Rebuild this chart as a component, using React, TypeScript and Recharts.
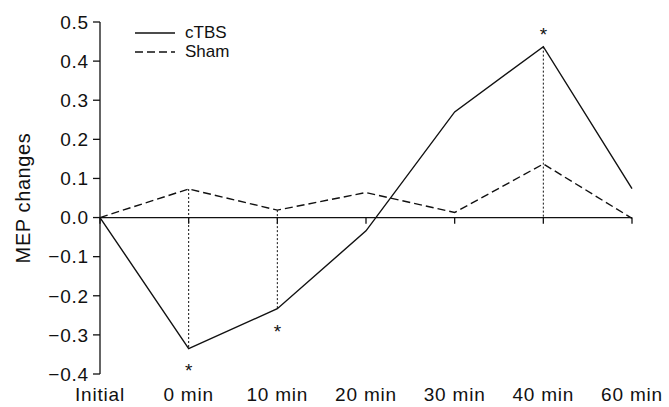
import { LineChart, Line, XAxis, YAxis, ReferenceLine, ReferenceDot, Legend } from 'recharts'

const categories = ['Initial', '0 min', '10 min', '20 min', '30 min', '40 min', '60 min']
const ctbs = [0, -0.335, -0.233, -0.034, 0.27, 0.437, 0.074]
const sham = [0, 0.073, 0.019, 0.064, 0.013, 0.137, -0.002]
const yTicks = [-0.4, -0.3, -0.2, -0.1, 0, 0.1, 0.2, 0.3, 0.4, 0.5]

// significant time points: dotted drop line and asterisk
const sigCats = ['0 min', '10 min', '40 min']
const dropFrom = [0.073, 0.019, 0.437]
const dropTo = [-0.335, -0.233, 0]
const starAt = [-0.384, -0.284, 0.474]

const FONT = '"Liberation Sans", Arial, sans-serif'
const series = [
  { key: 'cTBS', dash: undefined as string | undefined },
  { key: 'Sham', dash: '8 4' },
]

const data = categories.map((cat, i) => ({ cat, cTBS: ctbs[i], Sham: sham[i] }))

const fmt = (v: number) => (v < 0 ? '\u2212' : '') + Math.abs(v).toFixed(1)

const tickStyle = { fill: '#111', fontSize: 19, fontFamily: FONT, letterSpacing: 0.8 }

const renderLegend = () => (
  <div style={{ fontFamily: FONT, fontSize: 17, color: '#111' }}>
    {series.map((s) => (
      <div key={s.key} style={{ display: 'flex', alignItems: 'center', height: 19 }}>
        <svg width={42} height={10} style={{ marginRight: 8 }}>
          <line x1={0} y1={5} x2={40} y2={5} stroke="#111" strokeWidth={1.3} strokeDasharray={s.dash} />
        </svg>
        <span>{s.key}</span>
      </div>
    ))}
  </div>
)

const Star = (props: any) => {
  const { viewBox } = props
  return (
    <text x={viewBox.x} y={viewBox.y + 9} textAnchor="middle" fontSize={19} fontFamily={FONT} fill="#111">
      *
    </text>
  )
}

export default function App() {
  return (
    <div style={{ position: 'absolute', left: 0, top: 0, width: 669, height: 407, background: '#fff' }}>
      <LineChart width={669} height={407} data={data} margin={{ top: 22, right: 37, bottom: 0, left: 0 }}>
        <XAxis
          dataKey="cat"
          axisLine={false}
          tickLine={false}
          height={33}
          tickMargin={8}
          interval={0}
          tick={tickStyle}
        />
        <YAxis
          width={100}
          domain={[-0.4, 0.5]}
          ticks={yTicks}
          tickFormatter={fmt}
          interval={0}
          tickSize={7}
          tickMargin={4}
          axisLine={{ stroke: '#111', strokeWidth: 1.3 }}
          tickLine={{ stroke: '#111', strokeWidth: 1.3 }}
          tick={tickStyle}
          label={{
            value: 'MEP changes',
            angle: -90,
            position: 'insideLeft',
            offset: 23,
            style: { fill: '#111', fontSize: 20, fontFamily: FONT, textAnchor: 'middle', letterSpacing: 0.6 },
          }}
        />
        <ReferenceLine y={0} stroke="#111" strokeWidth={1.3} />
        {categories.map((c) => (
          <ReferenceLine
            key={'t' + c}
            segment={[{ x: c, y: 0 }, { x: c, y: -0.016 }]}
            stroke="#111"
            strokeWidth={1.3}
          />
        ))}
        {sigCats.map((c, i) => (
          <ReferenceLine
            key={'d' + c}
            segment={[{ x: c, y: dropFrom[i] }, { x: c, y: dropTo[i] }]}
            stroke="#111"
            strokeWidth={1}
            strokeDasharray="2 2"
          />
        ))}
        {series.map((s) => (
          <Line
            key={s.key}
            dataKey={s.key}
            stroke="#111"
            strokeWidth={1.4}
            strokeDasharray={s.dash}
            dot={false}
            activeDot={false}
            isAnimationActive={false}
          />
        ))}
        {sigCats.map((c, i) => (
          <ReferenceDot key={'s' + c} x={c} y={starAt[i]} r={0} stroke="none" label={<Star />} />
        ))}
        <Legend
          layout="vertical"
          align="center"
          verticalAlign="middle"
          wrapperStyle={{ left: 135, top: 23, width: 150 }}
          content={renderLegend}
        />
      </LineChart>
    </div>
  )
}
